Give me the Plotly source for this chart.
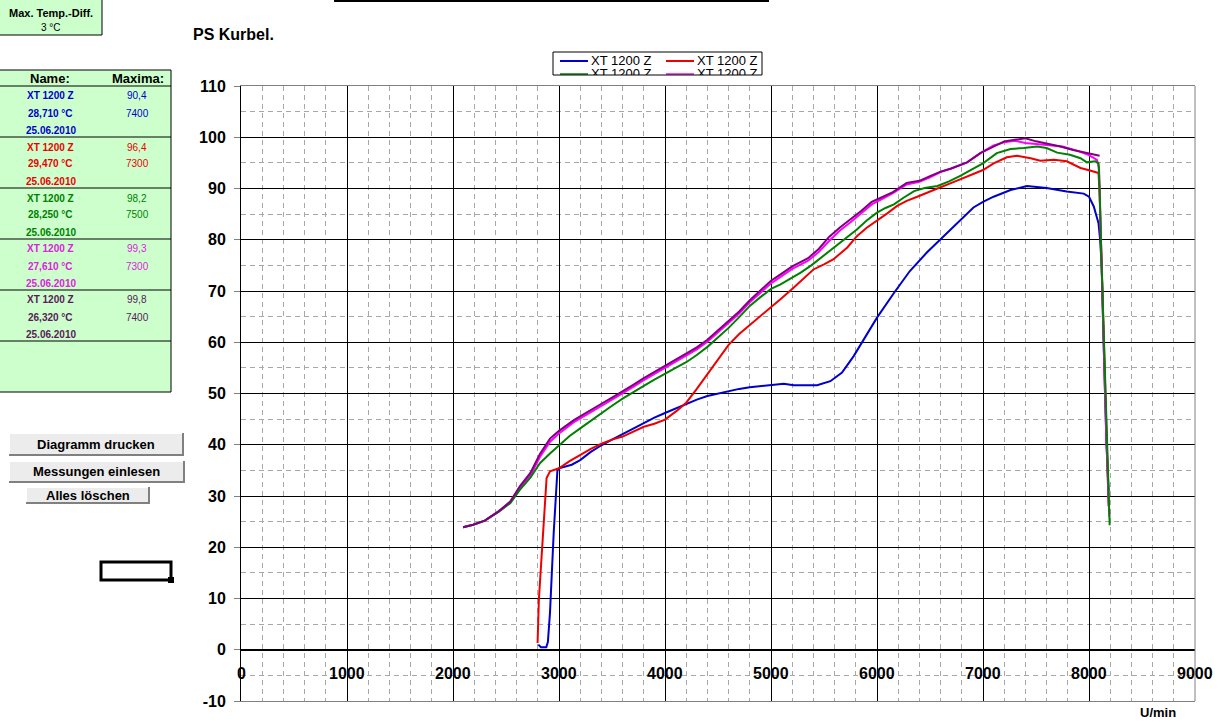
import plotly.graph_objects as go

W, H = 1219, 725
FONT = "Liberation Sans, Arial, sans-serif"

# ---------------- data ----------------
series_names = ["XT 1200 Z", "XT 1200 Z", "XT 1200 Z", "XT 1200 Z", "XT 1200 Z"]
series_colors = ["#0000CC", "#EE0000", "#008000", "#FF00FF", "#800080"]
text_colors = ["#0000CC", "#EE0000", "#008000", "#DD22DD", "#5A1A5A"]

temps = ["28,710 °C", "29,470 °C", "28,250 °C", "27,610 °C", "26,320 °C"]
dates = ["25.06.2010", "25.06.2010", "25.06.2010", "25.06.2010", "25.06.2010"]
max_ps = ["90,4", "96,4", "98,2", "99,3", "99,8"]
max_rpm = ["7400", "7300", "7500", "7300", "7400"]

x_ticks = [0, 1000, 2000, 3000, 4000, 5000, 6000, 7000, 8000, 9000]
y_ticks = [-10, 0, 10, 20, 30, 40, 50, 60, 70, 80, 90, 100, 110]

blue_rpm = [2805, 2830, 2880, 2895, 2915, 2950, 2985, 3000, 3120, 3200, 3300, 3400, 3500, 3600, 3700,
            3800, 3900, 4000, 4100, 4200, 4300, 4400, 4500, 4600, 4700, 4800, 4900, 5000, 5120, 5215,
            5435, 5560, 5670, 5780, 5875, 6000, 6160, 6310, 6470, 6600, 6750, 6910, 7000, 7100, 7260,
            7415, 7600, 7790, 7950, 8000, 8045, 8090, 8105, 8120, 8135, 8150, 8165, 8185]
blue_ps = [1.0, 0.5, 0.5, 1.5, 7.2, 22.8, 35.0, 35.4, 36.1, 37.0, 38.6, 39.9, 41.0, 42.1, 43.2,
           44.3, 45.3, 46.2, 47.1, 48.0, 48.8, 49.5, 50.0, 50.5, 50.9, 51.2, 51.4, 51.6, 51.9, 51.6,
           51.6, 52.4, 54.1, 57.3, 60.5, 64.8, 69.6, 73.9, 77.5, 80.1, 83.3, 86.3, 87.4, 88.4, 89.7,
           90.5, 90.1, 89.4, 89.0, 88.4, 86.5, 83.2, 80.0, 74.8, 62.0, 50.0, 40.0, 31.0]

red_rpm = [2798, 2810, 2850, 2883, 2915, 3000, 3100, 3200, 3300, 3400, 3500, 3600, 3700, 3800, 3900,
           4000, 4110, 4200, 4300, 4400, 4500, 4600, 4700, 4810, 4900, 5000, 5100, 5210, 5300, 5400,
           5500, 5590, 5720, 5810, 5900, 6000, 6100, 6190, 6280, 6380, 6480, 6570, 6680, 6790, 6900,
           7000, 7100, 7225, 7320, 7450, 7540, 7670, 7790, 7920, 8010, 8090, 8100, 8115, 8135, 8160, 8185]
red_ps = [1.3, 9.7, 22.8, 33.5, 34.8, 35.4, 36.8, 38.0, 39.2, 40.2, 41.0, 41.6, 42.5, 43.5, 44.1,
          44.9, 46.6, 48.2, 50.9, 53.8, 56.8, 59.5, 61.6, 63.5, 65.1, 66.7, 68.6, 70.6, 72.4, 74.2,
          75.2, 76.2, 78.5, 80.7, 82.3, 83.7, 85.2, 86.6, 87.6, 88.4, 89.3, 90.0, 90.9, 91.8, 92.7,
          93.6, 94.9, 96.1, 96.4, 95.9, 95.4, 95.6, 95.3, 94.0, 93.5, 93.0, 89.0, 78.0, 60.0, 42.0, 28.0]

green_rpm = [2095, 2190, 2300, 2430, 2540, 2630, 2730, 2820, 2915, 3000, 3100, 3200, 3300, 3400, 3500,
             3600, 3700, 3800, 3900, 4000, 4100, 4200, 4300, 4400, 4500, 4600, 4700, 4800, 4900, 5000,
             5090, 5200, 5280, 5380, 5470, 5560, 5650, 5730, 5810, 5900, 6000, 6080, 6160, 6250, 6350,
             6450, 6570, 6680, 6790, 6900, 7000, 7130, 7260, 7385, 7510, 7600, 7700, 7820, 7920, 7980,
             8060, 8090, 8100, 8115, 8130, 8150, 8175, 8195]
green_ps = [23.9, 24.4, 25.2, 26.9, 28.6, 31.2, 33.6, 36.4, 38.3, 39.9, 41.7, 43.2, 44.7, 46.2, 47.6,
            49.0, 50.3, 51.5, 52.7, 53.9, 55.0, 56.1, 57.5, 59.1, 60.9, 62.8, 64.9, 67.1, 68.8, 70.4,
            71.3, 72.6, 73.6, 75.0, 76.5, 78.0, 79.4, 80.8, 82.0, 83.7, 85.3, 86.2, 86.9, 88.2, 89.5,
            90.1, 90.5, 91.4, 92.5, 93.8, 94.9, 96.9, 97.7, 97.9, 98.2, 97.9, 97.0, 96.6, 95.9, 95.1,
            95.3, 94.9, 90.0, 78.0, 68.0, 52.0, 36.0, 24.3]

magenta_rpm = [2095, 2190, 2300, 2430, 2540, 2630, 2730, 2820, 2915, 3000, 3140, 3200, 3300, 3400, 3500,
               3600, 3700, 3800, 3900, 4000, 4100, 4200, 4300, 4400, 4500, 4600, 4700, 4800, 4900, 5000,
               5100, 5200, 5350, 5450, 5550, 5650, 5750, 5850, 5950, 6050, 6150, 6280, 6400, 6500, 6600,
               6700, 6850, 6975, 7100, 7200, 7300, 7400, 7500, 7600, 7750, 7900, 8000, 8075, 8095, 8110,
               8130, 8155, 8180, 8192]
magenta_ps = [23.9, 24.4, 25.2, 27.0, 28.8, 31.6, 34.0, 37.6, 40.6, 42.2, 44.4, 45.1, 46.3, 47.6, 48.8,
              50.0, 51.3, 52.6, 53.8, 55.0, 56.1, 57.3, 58.6, 60.1, 61.9, 63.7, 65.6, 67.8, 69.7, 71.5,
              72.9, 74.3, 75.9, 77.6, 79.8, 81.8, 83.4, 85.1, 86.9, 88.0, 89.1, 90.8, 91.3, 92.2, 93.2,
              93.9, 95.1, 96.9, 98.4, 99.0, 99.3, 98.9, 98.7, 98.5, 98.2, 97.3, 96.5, 95.6, 94.0, 82.0,
              66.0, 47.0, 32.0, 26.0]

purple_rpm = [2095, 2190, 2300, 2430, 2540, 2630, 2730, 2820, 2915, 3000, 3140, 3200, 3300, 3400, 3500,
              3600, 3700, 3800, 3900, 4000, 4100, 4200, 4300, 4400, 4500, 4600, 4700, 4800, 4900, 5000,
              5100, 5200, 5350, 5450, 5550, 5650, 5750, 5850, 5950, 6050, 6150, 6280, 6400, 6500, 6600,
              6700, 6850, 6975, 7100, 7200, 7300, 7400, 7500, 7600, 7730, 7850, 8000, 8100]
purple_ps = [23.9, 24.4, 25.2, 27.0, 28.9, 31.9, 34.5, 38.2, 41.2, 42.7, 44.8, 45.5, 46.8, 48.0, 49.2,
             50.4, 51.7, 53.0, 54.2, 55.4, 56.5, 57.7, 59.0, 60.5, 62.3, 64.1, 66.0, 68.2, 70.2, 72.0,
             73.4, 74.8, 76.4, 78.2, 80.6, 82.4, 84.0, 85.6, 87.4, 88.3, 89.3, 91.1, 91.5, 92.4, 93.3,
             93.9, 95.1, 96.9, 98.2, 99.2, 99.5, 99.8, 99.2, 98.8, 98.2, 97.5, 96.9, 96.4]

curves = [(blue_rpm, blue_ps), (red_rpm, red_ps), (green_rpm, green_ps),
          (magenta_rpm, magenta_ps), (purple_rpm, purple_ps)]
draw_order = [0, 1, 3, 2, 4]

# ---------------- figure ----------------
fig = go.Figure()

for i in draw_order:
    rx, ry = curves[i]
    fig.add_trace(go.Scatter(x=rx, y=ry, mode="lines", name=series_names[i],
                             line=dict(color=series_colors[i], width=2),
                             showlegend=False, hoverinfo="x+y"))


def px(x):
    return x / W


def py(y):
    return 1 - y / H


# legend as a small clipped subplot (pixel coordinates)
LX0, LX1, LY0, LY1 = 553, 762, 52, 75
leg_rows = [(62, [(0, 560, 588, 591), (1, 666, 694, 697)]),
            (75, [(2, 560, 588, 591), (3, 666, 694, 697)])]
for ycen, items in leg_rows:
    for idx, a, b, tx in items:
        fig.add_trace(go.Scatter(x=[a, b], y=[ycen - 1, ycen - 1], mode="lines",
                                 line=dict(color=series_colors[idx], width=2 if ycen < 70 else 1.5),
                                 xaxis="x2", yaxis="y2", showlegend=False, hoverinfo="skip"))
        fig.add_trace(go.Scatter(x=[tx], y=[ycen], mode="text", text=[series_names[idx]],
                                 textposition="middle right", cliponaxis=True,
                                 textfont=dict(family=FONT, size=13, color="black"),
                                 xaxis="x2", yaxis="y2", showlegend=False, hoverinfo="skip"))

shapes = []
annots = []


def rect(x0, y0, x1, y1, fill="rgba(0,0,0,0)", lc="black", lw=1):
    shapes.append(dict(type="rect", xref="paper", yref="paper",
                       x0=px(x0), x1=px(x1), y0=py(y1), y1=py(y0),
                       fillcolor=fill, line=dict(color=lc, width=lw), layer="above"))


def hline(x0, x1, y, lc="black", lw=1):
    shapes.append(dict(type="line", xref="paper", yref="paper",
                       x0=px(x0), x1=px(x1), y0=py(y), y1=py(y),
                       line=dict(color=lc, width=lw), layer="above"))


def vline(x, y0, y1, lc="black", lw=1):
    shapes.append(dict(type="line", xref="paper", yref="paper",
                       x0=px(x), x1=px(x), y0=py(y0), y1=py(y1),
                       line=dict(color=lc, width=lw), layer="above"))


def text(x, y, s, size=10, color="black", bold=False, xanchor="center"):
    annots.append(dict(xref="paper", yref="paper", x=px(x), y=py(y), text=("<b>%s</b>" % s) if bold else s,
                       showarrow=False, xanchor=xanchor, yanchor="middle",
                       font=dict(family=FONT, size=size, color=color)))


# top line
hline(334, 769, 1, lw=2)

# Max temp diff box
rect(-2, -2, 102, 35, fill="#CCFFCC")
text(51, 13, "Max. Temp.-Diff.", 11, "black", True)
text(51, 28, "3 °C", 10, "black")

# table
rect(-2, 70, 171, 392, fill="#CCFFCC")
text(50, 78, "Name:", 13, "black", True)
text(138, 78, "Maxima:", 13, "black", True)
hline(0, 171, 86)
for k in range(5):
    base = 96 + 51 * k
    c = text_colors[k]
    text(51, base, series_names[k], 10, c, True)
    text(51, base + 17, temps[k], 10, c, True)
    text(51, base + 34, dates[k], 10, c, True)
    text(137, base, max_ps[k], 10, c)
    text(137, base + 17, max_rpm[k], 10, c)
    hline(0, 171, 137 + 51 * k)

# buttons
buttons = [((9, 433, 183, 455), "Diagramm drucken"),
           ((9, 461, 184, 482), "Messungen einlesen"),
           ((26, 487, 149, 503), "Alles löschen")]
for (x0, y0, x1, y1), lab in buttons:
    rect(x0, y0, x1, y1, fill="#ECECEC", lc="rgba(0,0,0,0)", lw=0)
    hline(x0, x1, y0 + 0.5, "#FFFFFF", 1)
    vline(x0 + 0.5, y0, y1, "#FFFFFF", 1)
    hline(x0, x1 + 1, y1, "#808080", 2)
    vline(x1, y0, y1 + 1, "#808080", 2)
    text((x0 + x1) / 2, (y0 + y1) / 2 + 0.5, lab, 13, "black", True)

# selected-cell rectangle
rect(101, 562, 171, 580, lw=3)
rect(168, 577, 174, 583, fill="black", lw=0)

# title and axis unit
text(191, 35, "PS Kurbel.", 16, "black", True, xanchor="left")
text(1158, 712, "U/min", 13, "black", True)

# x tick labels sitting on the zero line
for t in x_ticks:
    annots.append(dict(xref="x", yref="y", x=t, y=-4.6, text="<b>%d</b>" % t, showarrow=False,
                       xanchor="center", yanchor="middle",
                       font=dict(family=FONT, size=16, color="black")))

# plot border (right side gray)
shapes.append(dict(type="line", xref="x domain", yref="y domain", x0=1, x1=1, y0=0, y1=1,
                   line=dict(color="#808080", width=1), layer="above"))
# legend border
shapes.append(dict(type="rect", xref="x2 domain", yref="y2 domain", x0=0, x1=1, y0=0, y1=1,
                   line=dict(color="black", width=1), layer="above"))

fig.update_layout(
    width=W, height=H, autosize=False,
    margin=dict(l=0, r=0, t=0, b=0, pad=0, autoexpand=False),
    paper_bgcolor="white", plot_bgcolor="white",
    showlegend=False,
    font=dict(family=FONT, color="black"),
    xaxis=dict(domain=[241 / W, 1195 / W], range=[0, 9000], tickvals=x_ticks, showticklabels=False,
               ticks="", showgrid=True, gridcolor="black", gridwidth=1, zeroline=False,
               showline=True, mirror=True, linecolor="#808080", linewidth=1, automargin=False,
               minor=dict(dtick=200, tick0=0, showgrid=True, gridcolor="#A8A8A8", griddash="5px,4px",
                          gridwidth=1, ticks=""),
               anchor="y", fixedrange=True),
    yaxis=dict(domain=[1 - 701 / H, 1 - 86 / H], range=[-10, 110], tickvals=y_ticks,
               ticktext=["<b>%d</b>" % v for v in y_ticks],
               tickfont=dict(family=FONT, size=16, color="black"),
               ticks="outside", ticklen=6, tickcolor="#808080", ticklabelstandoff=5,
               showgrid=True, gridcolor="black", gridwidth=1,
               zeroline=True, zerolinecolor="black", zerolinewidth=2,
               showline=True, linecolor="black", linewidth=1, automargin=False,
               minor=dict(dtick=5, tick0=0, showgrid=True, gridcolor="#A8A8A8", griddash="5px,4px",
                          gridwidth=1, ticks=""),
               anchor="x", fixedrange=True),
    xaxis2=dict(domain=[LX0 / W, LX1 / W], range=[LX0, LX1], visible=False, anchor="y2",
                fixedrange=True, automargin=False),
    yaxis2=dict(domain=[1 - LY1 / H, 1 - LY0 / H], range=[LY1, LY0], visible=False, anchor="x2",
                fixedrange=True, automargin=False),
    shapes=shapes,
    annotations=annots,
)

fig.write_html("out.html", config={"displayModeBar": False},
               post_script="document.body.style.margin='0';document.body.style.overflow='hidden';")
